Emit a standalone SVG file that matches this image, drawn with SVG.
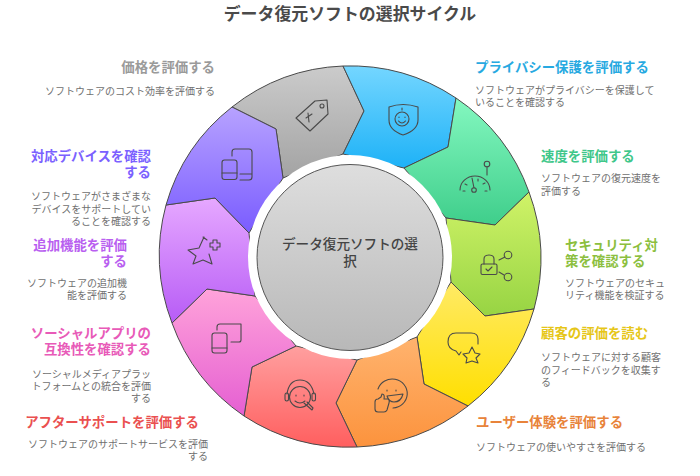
<svg xmlns="http://www.w3.org/2000/svg" width="700" height="476" viewBox="0 0 700 476">
<style>
text{font-family:"Noto Sans CJK JP","Noto Sans",sans-serif}
.t{font-size:16.9px;font-weight:700;fill:#4a4a4a;text-anchor:middle}
.h{font-size:13.4px;font-weight:700}
.d{font-size:10px;fill:#707070}
.r{text-anchor:end}
.s{stroke:#4a4a4a;stroke-width:1;stroke-linejoin:round}
.i{fill:none;stroke:#4a4a4a;stroke-width:1.1;stroke-linecap:round;stroke-linejoin:round}
.c{font-size:13.6px;font-weight:500;fill:#444;text-anchor:middle}
</style>
<defs>
<linearGradient id="g0" x1="0" y1="0" x2="0" y2="1"><stop offset="0" stop-color="#cbcbcb"/><stop offset="1" stop-color="#a3a3a3"/></linearGradient>
<linearGradient id="g1" x1="0" y1="0" x2="0" y2="1"><stop offset="0" stop-color="#74d6ff"/><stop offset="1" stop-color="#1eb2f7"/></linearGradient>
<linearGradient id="g2" x1="0" y1="0" x2="0" y2="1"><stop offset="0" stop-color="#84f8c0"/><stop offset="1" stop-color="#3fce8b"/></linearGradient>
<linearGradient id="g3" x1="0" y1="0" x2="0" y2="1"><stop offset="0" stop-color="#d0f368"/><stop offset="1" stop-color="#97d443"/></linearGradient>
<linearGradient id="g4" x1="0" y1="0" x2="0" y2="1"><stop offset="0" stop-color="#ffea66"/><stop offset="1" stop-color="#ffdf00"/></linearGradient>
<linearGradient id="g5" x1="0" y1="0" x2="0" y2="1"><stop offset="0" stop-color="#ffb36e"/><stop offset="1" stop-color="#fc933d"/></linearGradient>
<linearGradient id="g6" x1="0" y1="0" x2="0" y2="1"><stop offset="0" stop-color="#ff9f9f"/><stop offset="1" stop-color="#ff5f5f"/></linearGradient>
<linearGradient id="g7" x1="0" y1="0" x2="0" y2="1"><stop offset="0" stop-color="#ffa3da"/><stop offset="1" stop-color="#e55fd2"/></linearGradient>
<linearGradient id="g8" x1="0" y1="0" x2="0" y2="1"><stop offset="0" stop-color="#e6a8ff"/><stop offset="1" stop-color="#b75cf6"/></linearGradient>
<linearGradient id="g9" x1="0" y1="0" x2="0" y2="1"><stop offset="0" stop-color="#b7a2ff"/><stop offset="1" stop-color="#7a5cff"/></linearGradient>
<linearGradient id="gc" x1="0" y1="0" x2="0" y2="1"><stop offset="0" stop-color="#dedede"/><stop offset="1" stop-color="#b8b8b8"/></linearGradient>
</defs>
<text class="t" x="350" y="20">データ復元ソフトの選択サイクル</text>

<g id="connectors"></g>

<g id="seg-price">
<path class="s" fill="url(#g0)" d="M283 178L276 129L232 107A191.500 191.500 0 0 1 343 66L364 111L343 154Z"/>
<path class="i" d="M296 118L315 101L327 100L328 114L310 131ZM306 118L312 114M308 113L309 122"/><circle class="i" cx="322" cy="106" r="2"/>
<text class="h r" x="215" y="72" fill="#9a9a9a">価格を評価する</text>
<text class="d r" x="215" y="95">ソフトウェアのコスト効率を評価する</text>
</g>
<g id="seg-privacy">
<path class="s" fill="url(#g1)" d="M343 154L364 111L343 66A191.500 191.500 0 0 1 456 98L448 147L404 168Z"/>
<path class="i" d="M389 107Q403 102 418 107V120Q418 130 403 135Q389 130 389 120Z"/><circle class="i" cx="402" cy="119" r="7"/><path class="i" d="M399 117V117.500M405 117V117.500M398.500 121Q402 125 405.500 121M402 108V110"/>
<text class="h" x="475" y="72" fill="#27a9e1">プライバシー保護を評価する</text>
<text class="d" y="94"><tspan x="475">ソフトウェアがプライバシーを保護して</tspan><tspan x="475" dy="12">いることを確認する</tspan></text>
</g>
<g id="seg-speed">
<path class="s" fill="url(#g2)" d="M404 168L448 147L456 98A191.500 191.500 0 0 1 529 192L495 225L446 218Z"/>
<path class="i" d="M460 190A15 14 0 0 1 490 190M472 178L474 188M463 191H465M485 191H487M465 184L467 185M483 184L485 183M478 179V181M487 167V175"/><circle class="i" cx="474" cy="190" r="2.300"/><circle class="i" cx="487" cy="164" r="2.800"/>
<text class="h" x="541" y="161" fill="#3fc78a">速度を評価する</text>
<text class="d" y="182"><tspan x="541">ソフトウェアの復元速度を</tspan><tspan x="541" dy="13">評価する</tspan></text>
</g>
<g id="seg-security">
<path class="s" fill="url(#g3)" d="M446 218L495 225L529 192A191.500 191.500 0 0 1 534 309L485 316L451 282Z"/>
<rect class="i" x="481" y="264" width="16" height="10.500" rx="1.500"/><path class="i" d="M484 264V259Q484 255 489 255Q494 255 494 259V264M486 269L488 271L492 267M499 260L505 257M499 272L504 275"/><circle class="i" cx="508" cy="255" r="3.800"/><circle class="i" cx="508" cy="277" r="3.800"/>
<text class="h" y="250" fill="#8cbf3f"><tspan x="565">セキュリティ対</tspan><tspan x="565" dy="16">策を確認する</tspan></text>
<text class="d" y="287"><tspan x="565">ソフトウェアのセキュ</tspan><tspan x="565" dy="12">リティ機能を検証する</tspan></text>
</g>
<g id="seg-reviews">
<path class="s" fill="url(#g4)" d="M451 282L485 316L534 309A191.500 191.500 0 0 1 468 406L424 384L417 337Z"/>
<path class="i" d="M478 344V339Q478 333 471 333H456Q448 333 448 342Q448 349 456 351L459 355L461 352"/><path class="i" d="M472 347L475 353L480 354L476 358L478 363L472 361L466 363L467 358L463 354L469 353Z"/>
<text class="h" x="541" y="338" fill="#e6c619">顧客の評価を読む</text>
<text class="d" y="361"><tspan x="541">ソフトウェアに対する顧客</tspan><tspan x="541" dy="12.500">のフィードバックを収集す</tspan><tspan x="541" dy="12.500">る</tspan></text>
</g>
<g id="seg-experience">
<path class="s" fill="url(#g5)" d="M417 337L424 384L468 406A191.500 191.500 0 0 1 357 447L336 403L357 360Z"/>
<path class="i" d="M378 389A15 14.500 0 1 1 393 408M387 390V391M396 390V391M387 396L403 394Q401 402 394 402Q389 402 387 396ZM375 402Q375 399 378 399L381 397L382 394Q385 394 384 399H388Q390 400 389 403L387 410Q386 412 384 412H378Q375 412 375 409Z"/>
<text class="h" x="476" y="427" fill="#e8833a">ユーザー体験を評価する</text>
<text class="d" x="476" y="451">ソフトウェアの使いやすさを評価する</text>
</g>
<g id="seg-support">
<path class="s" fill="url(#g6)" d="M357 360L336 403L357 447A191.500 191.500 0 0 1 244 416L252 367L296 346Z"/>
<circle class="i" cx="300" cy="397" r="10.500"/><path class="i" d="M287 394Q289 380 300 380Q311 380 314 394M296 395V396M304 395V396M295 401Q300 405 305 401M304 403L312 410L313 408L307 402"/><rect class="i" x="285" y="393" width="3.500" height="8" rx="1.700"/><rect class="i" x="312" y="393" width="3.500" height="8" rx="1.700"/>
<text class="h r" x="199" y="427" fill="#ea5050">アフターサポートを評価する</text>
<text class="d r" y="448"><tspan x="208">ソフトウェアのサポートサービスを評価</tspan><tspan x="208" dy="12">する</tspan></text>
</g>
<g id="seg-social">
<path class="s" fill="url(#g7)" d="M296 346L252 367L244 416A191.500 191.500 0 0 1 172 323L207 289L255 296Z"/>
<rect class="i" x="212" y="333" width="15" height="20" rx="2.500"/><path class="i" d="M212 348H227M217 330V327Q217 324 220 324H241V340Q241 342 239 342H231"/>
<text class="h r" y="338" fill="#e85ab8"><tspan x="151">ソーシャルアプリの</tspan><tspan x="151" dy="16">互換性を確認する</tspan></text>
<text class="d r" y="378"><tspan x="151">ソーシャルメディアプラッ</tspan><tspan x="151" dy="12">トフォームとの統合を評価</tspan><tspan x="151" dy="12">する</tspan></text>
</g>
<g id="seg-features">
<path class="s" fill="url(#g8)" d="M255 296L207 289L172 323A191.500 191.500 0 0 1 166 205L215 198L249 233Z"/>
<path class="i" d="M204 237L199 248L188 250L196 256L193 264L203 260L212 264L209 254M207 240L203 237M210 243H213V240H217V243H220V247H217V250H213V247H210Z"/>
<text class="h r" y="250" fill="#b95ff0"><tspan x="127">追加機能を評価</tspan><tspan x="127" dy="16">する</tspan></text>
<text class="d r" y="287"><tspan x="127">ソフトウェアの追加機</tspan><tspan x="127" dy="12">能を評価する</tspan></text>
</g>
<g id="seg-devices">
<path class="s" fill="url(#g9)" d="M249 233L215 198L166 205A191.500 191.500 0 0 1 232 107L276 129L283 178Z"/>
<rect class="i" x="222" y="160" width="15" height="19.500" rx="2.500"/><path class="i" d="M222 173H237M232 156V152Q232 149 235 149H249Q252 149 252 152V177Q252 180 249 180H240M240 174H252"/>
<text class="h r" y="161" fill="#7b61ff"><tspan x="151">対応デバイスを確認</tspan><tspan x="151" dy="16">する</tspan></text>
<text class="d r" y="200"><tspan x="151">ソフトウェアがさまざまな</tspan><tspan x="151" dy="12.500">デバイスをサポートしてい</tspan><tspan x="151" dy="12.500">ることを確認する</tspan></text>
</g>
<g id="center">
<circle cx="350" cy="257" r="102" fill="#fff"/>
<circle cx="350" cy="257.500" r="93" fill="url(#gc)" stroke="#555" stroke-width="1"/>
<text class="c" y="249"><tspan x="350">データ復元ソフトの選</tspan><tspan x="350" dy="17">択</tspan></text>
</g>
</svg>
